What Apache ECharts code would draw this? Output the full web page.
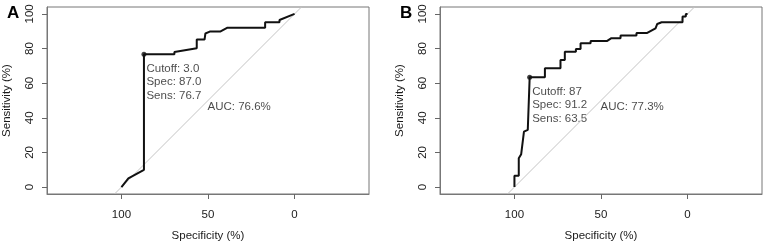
<!DOCTYPE html>
<html>
<head>
<meta charset="utf-8">
<script src="https://cdn.jsdelivr.net/npm/echarts@6/dist/echarts.min.js"></script>
<style>
  html, body { margin: 0; padding: 0; background: #fff; }
  #chart { width: 764px; height: 243px; }
</style>
</head>
<body>
<div id="chart"></div>
<script>
// ROC 曲线数据（特异度 %, 灵敏度 %）
var specA = [100, 96, 87, 87, 69.4, 69.4, 56.5, 56.5, 52, 51.5, 49, 43, 39, 17, 17, 8.7, 8.7, 0];
var sensA = [0, 5, 10, 76.7, 76.7, 78, 80.2, 85.2, 85.2, 88.7, 89.8, 89.8, 92, 92, 95.2, 95.2, 96.5, 100];

var specB = [100, 100, 97.5, 97.5, 96.1, 94.5, 92.3, 91.2, 82.4, 82.4, 73.4, 73.4, 70.9, 70.9, 64.5, 64.5, 61.8, 61.8,
             56, 56, 46.4, 44, 38.7, 38.7, 29.5, 29.5, 23.3, 18.5, 17.5, 15, 2.9, 2.9, 1, 1, 0];
var sensB = [0, 6.5, 6.5, 16.6, 19, 32, 33, 63.5, 63.5, 68.6, 68.6, 73.4, 73.4, 78.2, 78.2, 79.8, 79.8, 83,
             83, 84.4, 84.4, 86, 86, 87.5, 87.5, 89, 89, 91.7, 94.2, 95.2, 95.2, 98.5, 98.5, 100, 100];

// 最佳截断点
var cutA = [87.0, 76.7];
var cutB = [91.2, 63.5];
var cutTextA = ['Cutoff: 3.0', 'Spec: 87.0', 'Sens: 76.7'];
var cutTextB = ['Cutoff: 87', 'Spec: 91.2', 'Sens: 63.5'];
var aucA = 'AUC: 76.6%';
var aucB = 'AUC: 77.3%';
var aucPos = [50, 50];

// 刻度
var xTicks = [100, 50, 0];
var yTicks = [0, 20, 40, 60, 80, 100];
var diag = [[104, -4], [-4, 104]];

var fontColor = '#1a1a1a';
var boxColor = '#777';
var fontFamily = 'Liberation Sans, Arial, sans-serif';

function pairs(xs, ys) {
  return xs.map(function (x, i) { return [x, ys[i]]; });
}

function xAxisOf(idx) {
  return {
    gridIndex: idx,
    type: 'value',
    inverse: true,
    min: -43,
    max: 143,
    name: 'Specificity (%)',
    nameLocation: 'middle',
    nameGap: 36,
    nameTextStyle: { fontSize: 11.5, color: fontColor, fontFamily: fontFamily },
    axisLine: { show: true, onZero: false, lineStyle: { color: boxColor, width: 1 } },
    splitLine: { show: false },
    axisTick: { show: true, length: 5, lineStyle: { color: '#666' }, customValues: xTicks },
    axisLabel: { fontSize: 11.5, color: fontColor, fontFamily: fontFamily, margin: 15, customValues: xTicks }
  };
}

function yAxisOf(idx) {
  return {
    gridIndex: idx,
    type: 'value',
    min: -4,
    max: 104,
    name: 'Sensitivity (%)',
    nameLocation: 'middle',
    nameGap: 34,
    nameTextStyle: { fontSize: 11.5, color: fontColor, fontFamily: fontFamily },
    axisLine: { show: true, onZero: false, lineStyle: { color: boxColor, width: 1 } },
    splitLine: { show: false },
    axisTick: { show: true, length: 5, lineStyle: { color: '#666' }, customValues: yTicks },
    axisLabel: { fontSize: 11.5, color: fontColor, fontFamily: fontFamily, rotate: 90, margin: 11, customValues: yTicks }
  };
}

function seriesOf(idx, spec, sens, cut, cutText, auc) {
  return [{
    // 对角参考线
    type: 'line',
    xAxisIndex: idx, yAxisIndex: idx,
    data: diag,
    showSymbol: false,
    silent: true,
    lineStyle: { color: '#c4c4c4', width: 1 }
  }, {
    type: 'line',
    xAxisIndex: idx, yAxisIndex: idx,
    data: pairs(spec, sens),
    showSymbol: false,
    lineStyle: { color: '#111', width: 2 }
  }, {
    type: 'scatter',
    xAxisIndex: idx, yAxisIndex: idx,
    data: [cut],
    symbolSize: 5,
    itemStyle: { color: '#111' },
    label: {
      show: true,
      position: [5, 10],
      align: 'left',
      verticalAlign: 'top',
      formatter: cutText.join('\n'),
      fontSize: 11.5,
      lineHeight: 13.7,
      color: fontColor,
      fontFamily: fontFamily
    }
  }, {
    type: 'scatter',
    xAxisIndex: idx, yAxisIndex: idx,
    data: [aucPos],
    symbolSize: 1,
    itemStyle: { color: 'rgba(0,0,0,0)' },
    label: {
      show: true,
      position: [0, 1],
      align: 'left',
      verticalAlign: 'top',
      formatter: auc,
      fontSize: 11.5,
      color: fontColor,
      fontFamily: fontFamily
    }
  }];
}

var chart = echarts.init(document.getElementById('chart'));
var option = {
  animation: false,
  backgroundColor: '#fff',
  title: [
    { text: 'A', left: 2, top: 0, textStyle: { fontSize: 17, fontWeight: 'bold', color: '#000', fontFamily: fontFamily } },
    { text: 'B', left: 395, top: 0, textStyle: { fontSize: 17, fontWeight: 'bold', color: '#000', fontFamily: fontFamily } }
  ],
  grid: [
    { left: 47, top: 7, width: 322, height: 187, show: true, borderColor: boxColor, borderWidth: 1, outerBoundsMode: 'none' },
    { left: 440, top: 7, width: 322, height: 187, show: true, borderColor: boxColor, borderWidth: 1, outerBoundsMode: 'none' }
  ],
  xAxis: [xAxisOf(0), xAxisOf(1)],
  yAxis: [yAxisOf(0), yAxisOf(1)],
  series: [].concat(
    seriesOf(0, specA, sensA, cutA, cutTextA, aucA),
    seriesOf(1, specB, sensB, cutB, cutTextB, aucB)
  )
};
chart.setOption(option);
</script>
</body>
</html>
